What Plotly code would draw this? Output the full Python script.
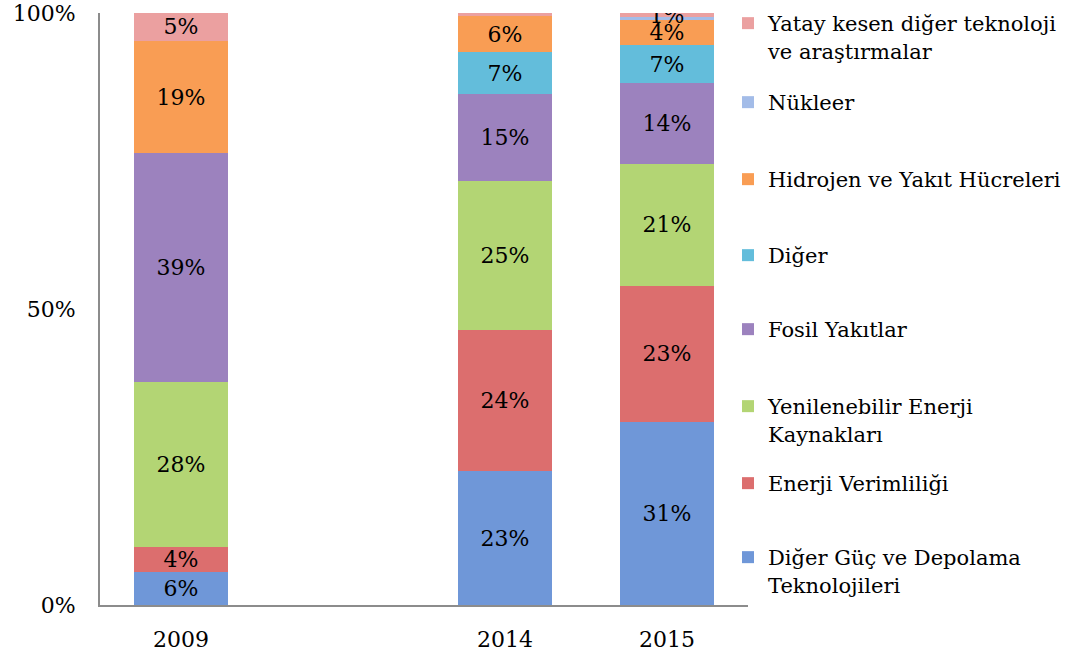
import math
import plotly.graph_objects as go

years = ["2009", "2014", "2015"]
categories = ["2009", " ", "2014", "2015"]

series_names = [
    "Diğer Güç ve Depolama<br>Teknolojileri",
    "Enerji Verimliliği",
    "Yenilenebilir Enerji<br>Kaynakları",
    "Fosil Yakıtlar",
    "Diğer",
    "Hidrojen ve Yakıt Hücreleri",
    "Nükleer",
    "Yatay kesen diğer teknoloji<br>ve araştırmalar",
]

diger_guc = [5.6, 22.6, 30.9]
enerji_verimliligi = [4.2, 23.8, 23.0]
yenilenebilir = [27.9, 25.2, 20.6]
fosil = [38.6, 14.7, 13.6]
diger = [0.0, 7.1, 6.5]
hidrojen = [19.0, 6.1, 4.2]
nukleer = [0.0, 0.0, 0.5]
yatay = [4.7, 0.5, 0.7]

series_values = [diger_guc, enerji_verimliligi, yenilenebilir, fosil,
                 diger, hidrojen, nukleer, yatay]

y_tick_vals = [0, 50, 100]
y_tick_text = ["0%", "50%", "100%"]

colors = ["#6F97D8", "#DC6E6E", "#B3D574", "#9C82BE",
          "#63BDDB", "#F99D54", "#A3BCE8", "#EBA0A0"]

# first-line centre (px) of each legend entry
legend_y_px = [558, 484, 407, 330, 256, 180, 103, 24]

FONT = "DejaVu Serif"
W, H = 1081, 657
ML, MR, MT, MB = 100, 333, 13, 52

fig = go.Figure()
for i, (name, vals, col) in enumerate(zip(series_names, series_values, colors)):
    texts = [f"{math.floor(v + 0.5)}%" if v >= 0.6 else "" for v in vals]
    lg = "legend" if i == 0 else f"legend{i + 1}"
    fig.add_trace(go.Bar(
        x=years, y=vals, name=name, marker=dict(color=col, line=dict(width=0)),
        text=texts, textposition="inside", insidetextanchor="middle",
        constraintext="none", textangle=0,
        textfont=dict(family=FONT, size=22, color="black"),
        legend=lg, hoverinfo="skip",
    ))

layout_legends = {}
for i, ypx in enumerate(legend_y_px):
    key = "legend" if i == 0 else f"legend{i + 1}"
    top_px = ypx - 21
    layout_legends[key] = dict(
        xref="container", yref="container",
        x=728 / W, xanchor="left",
        y=1 - top_px / H, yanchor="top",
        bgcolor="rgba(0,0,0,0)", valign="top", itemwidth=30,
        font=dict(family=FONT, size=21, color="black"),
        itemclick=False, itemdoubleclick=False,
    )

fig.update_layout(
    width=W, height=H,
    margin=dict(l=ML, r=MR, t=MT, b=MB, autoexpand=False),
    barmode="stack", barnorm="percent", bargap=0.42,
    plot_bgcolor="white", paper_bgcolor="white",
    showlegend=True, hovermode=False,
    font=dict(family=FONT, size=21, color="black"),
    xaxis=dict(type="category", categoryorder="array", categoryarray=categories,
               range=[-0.5, 3.5],
               showline=True, linecolor="#8C8C8C", linewidth=2, ticks="",
               showgrid=False, ticklabelstandoff=14,
               tickfont=dict(family=FONT, size=22, color="black")),
    yaxis=dict(range=[0, 100], tickmode="array", tickvals=y_tick_vals,
               ticktext=y_tick_text,
               showline=True, linecolor="#8C8C8C", linewidth=2, ticks="",
               showgrid=False, zeroline=False, ticklabelstandoff=18,
               tickfont=dict(family=FONT, size=22, color="black")),
    **layout_legends,
)

fig.write_html("out.html", config={"displayModeBar": False},
               post_script="document.body.style.margin='0';document.body.style.padding='0';")
